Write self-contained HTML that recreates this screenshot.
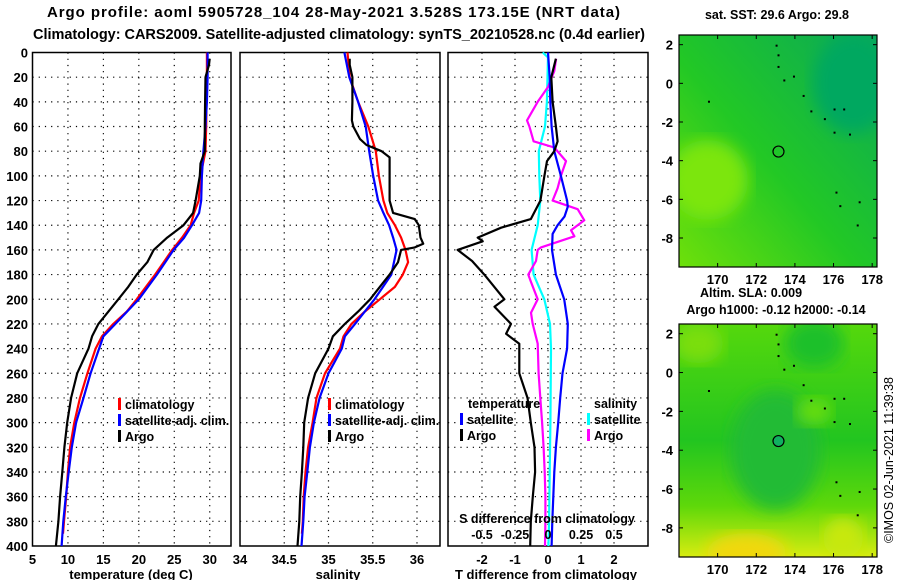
<!DOCTYPE html>
<html><head><meta charset="utf-8">
<style>
html,body{margin:0;padding:0;background:#fff;}
svg{display:block;font-family:"Liberation Sans",Arial,sans-serif;font-weight:bold;}
</style></head>
<body>
<svg id="fig" width="900" height="580" viewBox="0 0 900 580" xmlns="http://www.w3.org/2000/svg">
<defs>
<linearGradient id="g1" x1="0" y1="1" x2="1" y2="0">
<stop offset="0" stop-color="#6ee00a"/><stop offset="0.45" stop-color="#22c825"/><stop offset="1" stop-color="#0aa958"/>
</linearGradient>
<linearGradient id="g2" x1="0" y1="0" x2="0" y2="1">
<stop offset="0" stop-color="#55d80c"/><stop offset="0.5" stop-color="#22c520"/><stop offset="0.78" stop-color="#5ed80a"/><stop offset="1" stop-color="#d8ec10"/>
</linearGradient>
<filter id="bl"><feGaussianBlur stdDeviation="8"/></filter>
<clipPath id="c1"><rect x="679" y="35" width="198" height="232"/></clipPath>
<clipPath id="c2"><rect x="679" y="324" width="198" height="233"/></clipPath>
</defs>
<g id="root"></g>
</svg>
<script>
// ---------- data ----------
const tDepth   = [0,20,40,60,80,100,120,130,140,150,160,170,180,190,200,210,220,230,240,260,280,300,320,340,360,380,390];
const tClim    = [29.6,29.6,29.55,29.5,29.4,28.7,28.45,27.8,27.3,26.1,24.7,23.5,22.3,21,19.7,18.3,16.4,14.8,13.9,12.75,11.7,10.9,10.3,10.0,9.75,9.45,9.3];
const tsDepth  = [0,20,40,60,80,100,120,130,140,150,160,180,200,220,230,240,260,280,300,320,340,360,380,400];
const tSat     = [29.7,29.7,29.6,29.4,29.1,28.9,28.8,28.5,27.5,26.4,24.9,22.55,20,16.7,15,14.4,13.2,12.2,11.15,10.55,10.1,9.7,9.35,9.1];
const taDepth  = [5,10,20,40,60,80,90,100,120,130,140,150,160,170,180,190,200,210,220,230,240,260,280,300,320,340,360,380,400];
const tArgo    = [30.0,29.9,29.4,29.35,29.3,29.3,28.7,28.6,28.0,27.65,26.3,24,22.1,21.2,19.7,18.5,17.1,15.7,14.3,13.4,12.9,11.3,10.45,9.9,9.5,9.2,8.9,8.65,8.3];

const sClim    = [35.215,35.24,35.335,35.45,35.535,35.57,35.62,35.665,35.75,35.82,35.87,35.9,35.84,35.75,35.58,35.41,35.26,35.17,35.13,34.96,34.865,34.82,34.77,34.74,34.72,34.71,34.70];
const sSat     = [35.18,35.235,35.335,35.42,35.46,35.505,35.56,35.62,35.685,35.73,35.77,35.71,35.52,35.3,35.185,35.15,35.0,34.9,34.835,34.79,34.76,34.73,34.715,34.695];
const saDepth  = [5,10,20,40,55,60,70,75,80,85,100,120,130,135,140,150,155,158,160,170,180,190,200,210,220,230,240,260,280,300,320,340,360,380,400];
const sArgo    = [35.24,35.24,35.27,35.27,35.265,35.28,35.355,35.43,35.6,35.69,35.69,35.69,35.73,35.975,36.02,36.04,36.07,35.975,35.82,35.785,35.69,35.58,35.47,35.335,35.185,35.05,35.0,34.85,34.77,34.725,34.715,34.7,34.68,34.67,34.65];

const dtsDepth = [0,20,40,60,80,100,120,125,133,140,147,160,180,200,220,240,260,280,300,320,340,360,380,400];
const dtSat    = [0.0,0.05,0.07,0.11,0.19,0.39,0.58,0.6,0.5,0.29,0.14,0.12,0.24,0.49,0.6,0.58,0.44,0.37,0.31,0.24,0.19,0.16,0.13,0.11];
const dtaDepth = [5,20,40,60,72,80,88,100,120,135,142,150,153,160,169,180,200,206,220,228,236,260,280,300,320,340,360,380,400];
const dtArgo   = [0.24,0.1,0.14,0.24,0.29,0.19,-0.03,-0.11,-0.23,-0.52,-1.42,-2.13,-1.98,-2.74,-2.3,-1.93,-1.32,-1.62,-1.12,-1.27,-0.87,-0.87,-0.62,-0.52,-0.41,-0.39,-0.46,-0.52,-0.54];
const dssDepth = [0,4,40,60,80,100,120,140,160,180,200,220,240,300,340,380,400];
const dsSat    = [-0.04,0,-0.008,-0.023,-0.07,-0.066,-0.058,-0.078,-0.124,-0.109,-0.028,0.015,0.023,0.018,0.013,0.008,0.003];
const dsaDepth = [5,15,28,40,55,60,72,77,88,100,110,120,127,136,144,149,158,160,169,180,186,200,211,220,236,260,280,300,320,340,360,380,400];
const dsArgo   = [0.061,0.048,0,-0.078,-0.159,-0.141,-0.109,0.048,0.136,0.098,0.073,0.035,0.225,0.275,0.174,0.2,-0.053,-0.078,-0.091,-0.149,-0.129,-0.078,-0.129,-0.116,-0.078,-0.071,-0.058,-0.045,-0.033,-0.025,-0.02,-0.02,-0.023];

const depthTicks = [0,20,40,60,80,100,120,140,160,180,200,220,240,260,280,300,320,340,360,380,400];
const tTicks = [5,10,15,20,25,30];
const sTicks = [34,34.5,35,35.5,36];
const dTTicks = [-2,-1,0,1,2];
const dSTicks = [-0.5,-0.25,0,0.25,0.5];
const dSTickLabels = ["-0.5","-0.25","0","0.25","0.5"];
const lonTicks = [170,172,174,176,178];
const latTicks = [2,0,-2,-4,-6,-8];

// ---------- helpers ----------
const NS="http://www.w3.org/2000/svg";
const root=document.getElementById('root');
function mk(tag,attrs,parent,text){const e=document.createElementNS(NS,tag);for(const k in attrs)e.setAttribute(k,attrs[k]);if(text!==undefined)e.textContent=text;(parent||root).appendChild(e);return e;}
const Y0=52.5,Y1=546;
const yD=d=>Y0+d*(Y1-Y0)/400;
function lin(d0,d1,p0,p1){return v=>p0+(v-d0)*(p1-p0)/(d1-d0);}

function panel(name,x0,x1,xs,ticks,labels,grid,showY){
  const g=mk('g',{});
  
  
  depthTicks.forEach((d,i)=>{ if(i>0&&i<depthTicks.length-1){
    const l=mk('line',{x1:x0,x2:x1,y1:yD(d),y2:yD(d),stroke:'#000','stroke-width':1.2,'stroke-dasharray':'1.2 5'},g);
     }});
  grid.forEach(v=>{const x=xs(v); if(x>x0+2&&x<x1-2){
    const l=mk('line',{x1:x,x2:x,y1:Y0,y2:Y1,stroke:'#000','stroke-width':1.2,'stroke-dasharray':'1.2 5'},g);
     }});
  const r=mk('rect',{x:x0,y:Y0,width:x1-x0,height:Y1-Y0,fill:'none',stroke:'#000','stroke-width':1.5},g);
   
  ticks.forEach((v,i)=>{ if(labels){
    const t=mk('text',{x:xs(v),y:564,'font-size':13,'text-anchor':'middle'},g,labels[i]);
     }});
  if(showY){depthTicks.forEach(d=>{
    const t=mk('text',{x:28,y:yD(d)+5,'font-size':13,'text-anchor':'end'},g,String(d));
     });}
  return g;
}
function line(g,name,xs,xv,dv,color){
  const pts=xv.map((v,i)=>xs(v).toFixed(1)+','+yD(dv[i]).toFixed(1)).join(' ');
  const p=mk('polyline',{points:pts,fill:'none',stroke:color,'stroke-width':2.2,'stroke-linejoin':'round'},g);
   
}
function legend(g,x,y,color,label,name){
  const m=mk('rect',{x:x,y:y-11,width:3,height:12,fill:color},g);
   
  const t=mk('text',{x:x+7,y:y,'font-size':12.5},g,label);
   
}

// titles
let t=mk('text',{x:47,y:17,'font-size':15,textLength:573,lengthAdjust:'spacing'},root,'Argo profile: aoml 5905728_104 28-May-2021 3.528S 173.15E (NRT data)');
 
t=mk('text',{x:33,y:39,'font-size':14.5,textLength:612,lengthAdjust:'spacing'},root,'Climatology: CARS2009. Satellite-adjusted climatology: synTS_20210528.nc (0.4d earlier)');
 

// panel 1 temperature
const xT=lin(5,33,32.5,231);
const p1=panel('temperature-panel',32.5,231,xT,tTicks,tTicks.map(String),tTicks,true);
line(p1,'temperature-climatology-line',xT,tClim,tDepth,'#ff0000');
line(p1,'temperature-satellite-line',xT,tSat,tsDepth,'#0000ff');
line(p1,'temperature-argo-line',xT,tArgo,taDepth,'#000000');
legend(p1,118,409,'#ff0000','climatology','legend-climatology');
legend(p1,118,425,'#0000ff','satellite-adj. clim.','legend-satellite-adj');
legend(p1,118,441,'#000000','Argo','legend-argo');
t=mk('text',{x:131,y:579,'font-size':13,'text-anchor':'middle'},p1,'temperature (deg C)');
 

// panel 2 salinity
const xS=lin(34,36.26,240,440);
const p2=panel('salinity-panel',240,440,xS,sTicks,sTicks.map(String),sTicks,false);
line(p2,'salinity-climatology-line',xS,sClim,tDepth,'#ff0000');
line(p2,'salinity-satellite-line',xS,sSat,tsDepth,'#0000ff');
line(p2,'salinity-argo-line',xS,sArgo,saDepth,'#000000');
legend(p2,328,409,'#ff0000','climatology','legend-climatology');
legend(p2,328,425,'#0000ff','satellite-adj. clim.','legend-satellite-adj');
legend(p2,328,441,'#000000','Argo','legend-argo');
t=mk('text',{x:338,y:579,'font-size':13,'text-anchor':'middle'},p2,'salinity');
 

// panel 3 differences
const xDT=lin(-3.03,3.03,448,648);
const xDS=lin(-0.7575,0.7575,448,648);
const p3=panel('difference-panel',448,648,xDT,dTTicks,dTTicks.map(String),dTTicks,false);
line(p3,'salinity-satellite-diff-line',xDS,dsSat,dssDepth,'#00ffff');
line(p3,'salinity-argo-diff-line',xDS,dsArgo,dsaDepth,'#ff00ff');
line(p3,'temperature-satellite-diff-line',xDT,dtSat,dtsDepth,'#0000ff');
line(p3,'temperature-argo-diff-line',xDT,dtArgo,dtaDepth,'#000000');
t=mk('text',{x:468,y:408,'font-size':12.5},p3,'temperature');
 
t=mk('text',{x:594,y:408,'font-size':12.5},p3,'salinity');
 
legend(p3,460,424,'#0000ff','satellite','legend-temperature-satellite');
legend(p3,460,440,'#000000','Argo','legend-temperature-argo');
legend(p3,587,424,'#00ffff','satellite','legend-salinity-satellite');
legend(p3,587,440,'#ff00ff','Argo','legend-salinity-argo');
t=mk('text',{x:547,y:523,'font-size':12.5,'text-anchor':'middle'},p3,'S difference from climatology');
 
dSTicks.forEach((v,i)=>{const tt=mk('text',{x:xDS(v),y:539,'font-size':12.5,'text-anchor':'middle'},p3,dSTickLabels[i]);
   });
t=mk('text',{x:546,y:579,'font-size':13,'text-anchor':'middle'},p3,'T difference from climatology');
 

// maps
function map(name,y0,y1,grad,clip,extras,circleFill){
  const g=mk('g',{});
   
  const xL=lin(168,178.25,679,877);
  const yL=lin(2.5,-9.5,y0,y1);
  const gg=mk('g',{'clip-path':'url(#'+clip+')'},g);
  mk('rect',{x:679,y:y0,width:198,height:y1-y0,fill:'url(#'+grad+')'},gg);
  extras.forEach(e=>mk('ellipse',{cx:xL(e[0]),cy:yL(e[1]),rx:e[2],ry:e[3],fill:e[4],filter:'url(#bl)'},gg));
  [[173,2],[173.1,1.5],[173.1,0.9],[173.4,0.2],[173.9,0.4],[174.4,-0.6],[174.8,-1.4],[175.5,-1.8],[176,-1.3],[176.5,-1.3],[176,-2.5],[176.8,-2.6],[169.5,-0.9],[176.1,-5.6],[176.3,-6.3],[177.3,-6.1],[177.2,-7.3]].forEach(p=>{
    const d=mk('rect',{x:xL(p[0]),y:yL(p[1]),width:2,height:2,fill:'#000'},g);
     });
  const c=mk('circle',{cx:xL(173.15),cy:yL(-3.528),r:5.5,fill:circleFill,stroke:'#000','stroke-width':1.2},g);
   
  mk('rect',{x:679,y:y0,width:198,height:y1-y0,fill:'none',stroke:'#000','stroke-width':1.2},g);
  lonTicks.forEach(v=>{mk('line',{x1:xL(v),x2:xL(v),y1:y0,y2:y0+4,stroke:'#000'},g);mk('line',{x1:xL(v),x2:xL(v),y1:y1,y2:y1-4,stroke:'#000'},g);
    const tt=mk('text',{x:xL(v),y:y1+17,'font-size':13,'text-anchor':'middle'},g,String(v));
     });
  latTicks.forEach(v=>{mk('line',{x1:679,x2:683,y1:yL(v),y2:yL(v),stroke:'#000'},g);mk('line',{x1:877,x2:873,y1:yL(v),y2:yL(v),stroke:'#000'},g);
    const tt=mk('text',{x:673,y:yL(v)+5,'font-size':13,'text-anchor':'end'},g,String(v));
     });
}
map('sst-map',35,267,'g1','c1',[[169.5,-5,40,40,'#7ce60c'],[177,0,40,50,'#06a860']],'none');
map('sla-map',324,557,'g2','c2',[[173,-4,45,60,'#22bb35'],[175,-2,18,14,'#66dd0a'],[171.5,-9.3,40,20,'#f0d810'],[176.5,-8.5,20,20,'#c8e810'],[169,1.5,25,20,'#7ade0a'],[175,1.5,30,25,'#1cc02a']],'#10b060');

t=mk('text',{x:777,y:19,'font-size':12.5,'text-anchor':'middle'},root,'sat. SST: 29.6 Argo: 29.8');
 
t=mk('text',{x:751,y:297,'font-size':12.5,'text-anchor':'middle'},root,'Altim. SLA: 0.009');
 
t=mk('text',{x:776,y:314,'font-size':12.5,'text-anchor':'middle'},root,'Argo h1000: -0.12 h2000: -0.14');
 
t=mk('text',{x:0,y:0,'font-size':12.5,'font-weight':'normal','text-anchor':'middle',transform:'translate(893,460) rotate(-90)'},root,'©IMOS 02-Jun-2021 11:39:38');
 
</script>
</body></html>
